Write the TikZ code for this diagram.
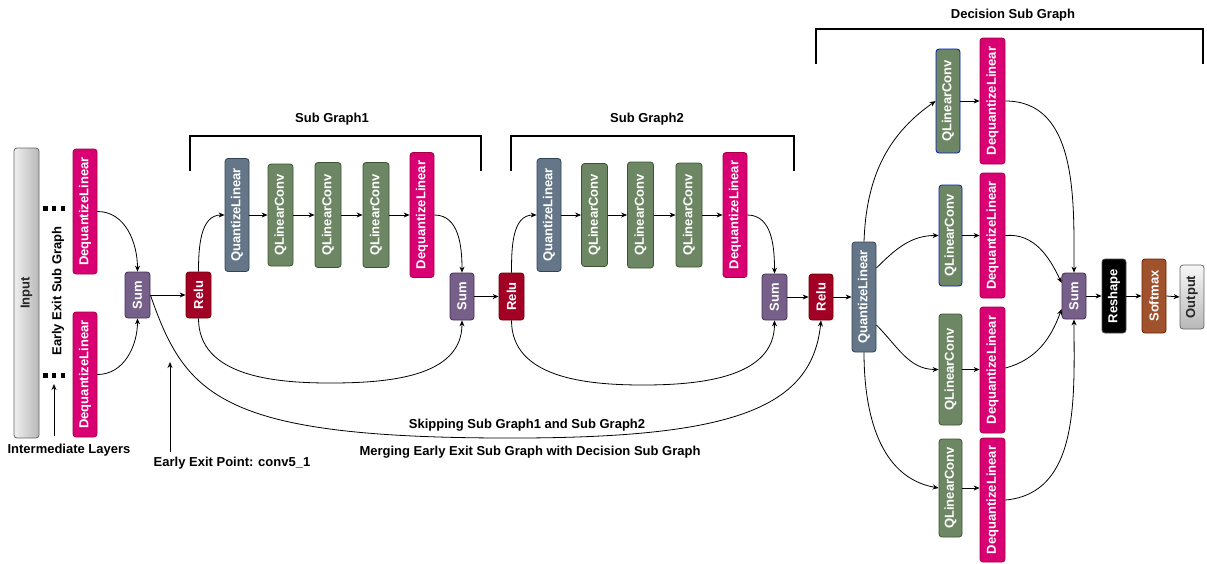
\documentclass[tikz,border=0pt]{standalone}
\usepackage{fontspec}
\setmainfont{Liberation Sans}
\usetikzlibrary{arrows.meta}
\definecolor{cDQ}{HTML}{D80073}\definecolor{bDQ}{HTML}{A50040}
\definecolor{cSum}{HTML}{76608A}\definecolor{bSum}{HTML}{432D57}
\definecolor{cRelu}{HTML}{A20025}\definecolor{bRelu}{HTML}{6F0000}
\definecolor{cQL}{HTML}{647687}\definecolor{bQL}{HTML}{314354}
\definecolor{cQC}{HTML}{6D8764}\definecolor{bQC}{HTML}{3A5431}
\definecolor{bBlue}{HTML}{001DBC}
\definecolor{cSoft}{HTML}{A0522D}\definecolor{bSoft}{HTML}{6D1F00}
\tikzset{
  blk/.style={draw, rounded corners=3pt, line width=0.8pt, inner sep=0pt},
  lbl/.style={rotate=90, text=white, inner sep=0pt, font=\fontsize{13}{15}\selectfont\bfseries},
  dlbl/.style={lbl, text=black!85},
  dqbox/.style={blk, fill=cDQ, draw=bDQ},
  sumbox/.style={blk, fill=cSum, draw=bSum},
  relubox/.style={blk, fill=cRelu, draw=bRelu},
  qlbox/.style={blk, fill=cQL, draw=bQL},
  qcbox/.style={blk, fill=cQC, draw=bQC},
  qcbbox/.style={blk, fill=cQC, draw=bBlue},
  rsbox/.style={blk, fill=black, draw=black!70},
  smbox/.style={blk, fill=cSoft, draw=bSoft},
  outbox/.style={blk, top color=black!3, bottom color=black!28, draw=black!60},
  inbox/.style={blk, left color=black!6, right color=black!28, draw=black!60},
  txt/.style={font=\fontsize{13}{15}\selectfont\bfseries, inner sep=0pt},
  conn/.style={line width=0.8pt, -{Stealth[length=6pt,width=5pt]}},
  brk/.style={line width=1.1pt},
  dotsq/.style={fill=black},
}
\newcommand{\blkn}[8][lbl]{\node[#3, minimum width=#6pt, minimum height=#7pt, label={[#1]center:#8}] (#2) at (#4,-#5) {};}
\begin{document}
\begin{tikzpicture}[x=1pt,y=1pt]
\useasboundingbox (0,0) rectangle (1207,-563);
% left part
\blkn[dlbl]{input}{inbox}{26.5}{293}{25}{290}{Input}
\blkn{dqA}{dqbox}{85}{211.5}{24}{125}{DequantizeLinear}
\blkn{dqB}{dqbox}{85}{374.5}{24}{125}{DequantizeLinear}
\blkn{sum1}{sumbox}{137.5}{295}{25}{46}{Sum}
\blkn{relu1}{relubox}{198.5}{295}{25}{46}{Relu}
% sub graph 1
\blkn{ql1}{qlbox}{237}{215}{24}{113}{QuantizeLinear}
\blkn{qc1a}{qcbox}{280.5}{215}{25}{102}{QLinearConv}
\blkn{qc1b}{qcbox}{328}{215}{26}{105}{QLinearConv}
\blkn{qc1c}{qcbox}{376}{215}{26}{105}{QLinearConv}
\blkn{dq1}{dqbox}{422}{215}{24}{125}{DequantizeLinear}
\blkn{sum2}{sumbox}{462}{296.5}{24}{47}{Sum}
\blkn{relu2}{relubox}{511.5}{296.5}{25}{47}{Relu}
% sub graph 2
\blkn{ql2}{qlbox}{549}{215}{24}{113}{QuantizeLinear}
\blkn{qc2a}{qcbox}{594.5}{215}{26}{103}{QLinearConv}
\blkn{qc2b}{qcbox}{640.5}{215}{26}{106}{QLinearConv}
\blkn{qc2c}{qcbox}{689}{215}{26}{104}{QLinearConv}
\blkn{dq2}{dqbox}{735}{215}{24}{125}{DequantizeLinear}
\blkn{sum3}{sumbox}{774.5}{297}{25}{46}{Sum}
\blkn{relu3}{relubox}{821}{297}{24}{46}{Relu}
% decision
\blkn{ql3}{qlbox}{864}{297}{24}{110}{QuantizeLinear}
\blkn{qcd1}{qcbbox}{948}{101}{24}{104}{QLinearConv}
\blkn{dqd1}{dqbox}{992.5}{101}{25}{126}{DequantizeLinear}
\blkn{qcd2}{qcbbox}{950.5}{235.5}{23}{101}{QLinearConv}
\blkn{dqd2}{dqbox}{992.5}{235.5}{25}{125}{DequantizeLinear}
\blkn{qcd3}{qcbox}{950.5}{369.5}{23}{111}{QLinearConv}
\blkn{dqd3}{dqbox}{992.5}{370}{25}{126}{DequantizeLinear}
\blkn{qcd4}{qcbox}{950.5}{488}{23}{98}{QLinearConv}
\blkn{dqd4}{dqbox}{992.5}{500}{25}{124}{DequantizeLinear}
\blkn{sum4}{sumbox}{1074}{296}{24}{46}{Sum}
\blkn{rs}{rsbox}{1114}{296}{24}{74}{Reshape}
\blkn{sm}{smbox}{1154}{296}{24}{74}{Softmax}
\blkn[dlbl]{out}{outbox}{1192}{297}{24}{64}{Output}
% dots
\foreach \yy in {208.5,375.5}{
  \foreach \xx in {45.5,54,63}{
    \fill[dotsq] (\xx-2.3,-\yy-2.3) rectangle (\xx+2.3,-\yy+2.3);
  }
}
% texts
\node[txt, rotate=90] (eesg) at (58,-291) {Early Exit Sub Graph};
\node[txt] (intl) at (69,-450) {Intermediate Layers};
\coordinate (intlA) at (54,-436);
\coordinate (intlB) at (54,-384);
\draw[conn] (intlA) -- (intlB);
\node[txt] (eep) at (232,-463) {Early Exit Point: conv5\_1};
\coordinate (eepA) at (170,-452);
\coordinate (eepB) at (170,-362);
\draw[conn] (eepA) -- (eepB);
\node[txt] (skip) at (527,-425) {Skipping Sub Graph1 and Sub Graph2};
\node[txt] (merge) at (530,-452) {Merging Early Exit Sub Graph with Decision Sub Graph};
\node[txt] (sg1) at (332,-119) {Sub Graph1};
\node[txt] (sg2) at (647,-119) {Sub Graph2};
\node[txt] (dsg) at (1013,-15) {Decision Sub Graph};
% brackets
\draw[brk] (190,-171) -- (190,-136) -- (481,-136) -- (481,-171);
\draw[brk] (511,-171) -- (511,-136) -- (794,-136) -- (794,-171);
\draw[brk] (816,-64) -- (816,-29) -- (1203,-29) -- (1203,-64);
% connectors left
\draw[conn] (dqA.east) to[out=0,in=90] (sum1.north);
\draw[conn] (dqB.east) to[out=0,in=-90] (sum1.south);
\draw[conn] (sum1.east) -- (relu1.west);
% sub graph 1
\draw[conn] (relu1.north) to[out=90,in=180] (ql1.west);
\draw[conn] (ql1.east) -- (qc1a.west);
\draw[conn] (qc1a.east) -- (qc1b.west);
\draw[conn] (qc1b.east) -- (qc1c.west);
\draw[conn] (qc1c.east) -- (dq1.west);
\draw[conn] (dq1.east) to[out=0,in=90] (sum2.north);
\draw[conn] (relu1.south) to[out=-90,in=180] (330,-383) to[out=0,in=-90] (sum2.south);
\draw[conn] (sum2.east) -- (relu2.west);
% sub graph 2
\draw[conn] (relu2.north) to[out=90,in=180] (ql2.west);
\draw[conn] (ql2.east) -- (qc2a.west);
\draw[conn] (qc2a.east) -- (qc2b.west);
\draw[conn] (qc2b.east) -- (qc2c.west);
\draw[conn] (qc2c.east) -- (dq2.west);
\draw[conn] (dq2.east) to[out=0,in=90] (sum3.north);
\draw[conn] (relu2.south) to[out=-90,in=180] (643,-385) to[out=0,in=-90] (sum3.south);
\draw[conn] (sum3.east) -- (relu3.west);
% skip
\draw[conn] (sum1.east) .. controls (185,-395) and (220,-437) .. (500,-438)
   .. controls (730,-439) and (812,-410) .. (relu3.south);
% decision
\draw[conn] (relu3.east) -- (ql3.west);
\draw[conn] (ql3.north) to[out=88,in=215] (qcd1.west);
\draw[conn] (ql3.east |- 0,-268) to[out=45,in=180] (qcd2.west);
\draw[conn] (ql3.east |- 0,-325) to[out=-45,in=180] (qcd3.west);
\draw[conn] (ql3.south) to[out=-90,in=170] (qcd4.west);
\draw[conn] (qcd1.east) -- (dqd1.west);
\draw[conn] (qcd2.east) -- (dqd2.west);
\draw[conn] (qcd3.east) -- (qcd3.east -| dqd3.west);
\draw[conn] (qcd4.east) -- (qcd4.east -| dqd4.west);
\draw[conn] (dqd1.east) to[out=0,in=90] (sum4.north);
\draw[conn] (dqd2.east) to[out=5,in=115] (sum4.west |- 0,-283);
\draw[conn] (dqd3.east |- 0,-368) to[out=15,in=250] (sum4.west |- 0,-309);
\draw[conn] (dqd4.east) to[out=5,in=-90] (sum4.south);
\draw[conn] (sum4.east) -- (rs.west);
\draw[conn] (rs.east) -- (sm.west);
\draw[conn] (sm.east) -- (out.west);
\end{tikzpicture}
\end{document}
